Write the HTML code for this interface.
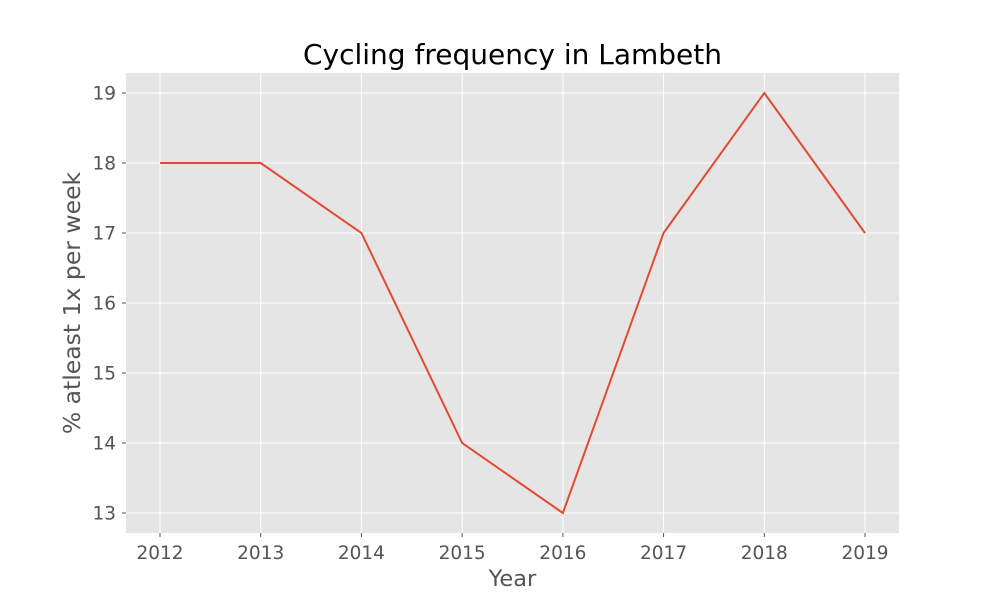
<!DOCTYPE html>
<html><head><meta charset="utf-8"><style>
body{margin:0;background:#fff;}
text{font-family:"DejaVu Sans","Liberation Sans",sans-serif;}
</style></head><body>
<svg id="chart" width="1000" height="600">
<text x="512.5" y="64" text-anchor="middle" font-size="28" fill="#000">Cycling frequency in Lambeth</text>
<rect x="126" y="73" width="773" height="460" fill="#e5e5e5"/>
<g id="grid"></g>
<g id="ticks"></g>
<polyline id="line" fill="none" stroke="#e24a33" stroke-width="2"/>
<text x="512.5" y="586" text-anchor="middle" font-size="22.5" fill="#555">Year</text>
<text transform="translate(80,303) rotate(-90)" text-anchor="middle" font-size="23.5" fill="#555">% atleast 1x per week</text>
</svg>
<script>
const years=[2012,2013,2014,2015,2016,2017,2018,2019];
const values=[18,18,17,14,13,17,19,17];
const yTicks=[13,14,15,16,17,18,19];
const NS="http://www.w3.org/2000/svg";
function xs(v){return 160+(v-2012)*(865-160)/7;}
function ys(v){return 513-(v-13)*70;}
const grid=document.getElementById('grid'),ticks=document.getElementById('ticks');
function mk(tag,attrs,parent){const e=document.createElementNS(NS,tag);for(const k in attrs)e.setAttribute(k,attrs[k]);parent.appendChild(e);return e;}
years.forEach(y=>{
  const l=mk('line',{x1:xs(y),x2:xs(y),y1:73,y2:533,stroke:'#fff','stroke-width':1},grid);
  
  
  mk('line',{x1:xs(y),x2:xs(y),y1:533,y2:537,stroke:'#555'},ticks);
  const tx=mk('text',{x:xs(y),y:559,'text-anchor':'middle','font-size':18.5,fill:'#555'},ticks);
  tx.textContent=y;
  
  
});
yTicks.forEach(v=>{
  const l=mk('line',{x1:126,x2:899,y1:ys(v),y2:ys(v),stroke:'#fff','stroke-width':1},grid);
  
  
  mk('line',{x1:122,x2:126,y1:ys(v),y2:ys(v),stroke:'#555'},ticks);
  const tx=mk('text',{x:116,y:ys(v)+6.5,'text-anchor':'end','font-size':18.5,fill:'#555'},ticks);
  tx.textContent=v;
  
  
});
document.getElementById('line').setAttribute('points',years.map((y,i)=>xs(y)+','+ys(values[i])).join(' '));
</script>
</body></html>
